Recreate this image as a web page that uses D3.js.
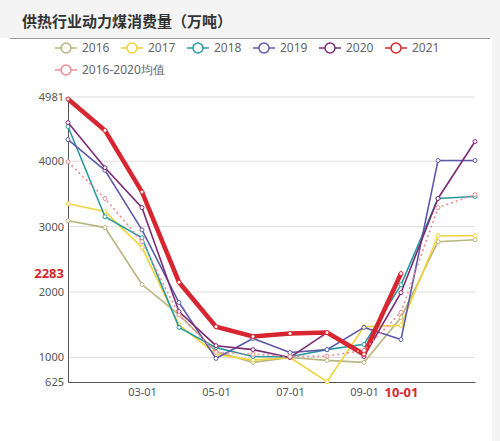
<!DOCTYPE html><html><head><meta charset="utf-8"><script src="https://cdn.jsdelivr.net/npm/d3@7"></script>
<style>body{margin:0;background:#fff;font-family:"Noto Sans CJK SC","Noto Sans",sans-serif}</style></head><body>
<svg id="c" width="500" height="441"></svg>
<script>
const months=["01-01","02-01","03-01","04-01","05-01","06-01","07-01","08-01","09-01","10-01","11-01","12-01"];
const tickLabels=["03-01","05-01","07-01","09-01","10-01"];
const yTicks=[625,1000,2000,3000,4000,4981];
const s2016=[3090,2985,2115,1655,1090,925,1000,955,925,1610,2770,2800];
const s2017=[3350,3230,2680,1500,1050,960,1000,630,1470,1490,2860,2860];
const s2018=[4530,3150,2830,1460,1150,1015,1010,1120,1200,2110,3430,3460];
const s2019=[4330,3860,2950,1840,985,1290,1075,1120,1460,1275,4010,4010];
const s2020=[4590,3900,3290,1700,1180,1120,1000,1380,1015,1990,3430,4300];
const s2021=[4950,4470,3530,2150,1470,1320,1365,1380,1050,2283];
const sAvg=[3990,3430,2770,1650,1080,1050,1015,1020,1110,1690,3290,3490];
const names=["2016","2017","2018","2019","2020","2021","2016-2020均值"];
const colors=["#b8b57e","#f2d33a","#2a9aa3","#5e5aa8","#7d2a74","#d7262f","#f08a90"];
const series=[s2016,s2017,s2018,s2019,s2020,s2021,sAvg];
const svg=d3.select("#c");
svg.append("rect").attr("width",500).attr("height",38).attr("fill","#f4f4f4");
svg.append("rect").attr("x",492).attr("y",38).attr("width",8).attr("height",403).attr("fill","#f4f4f4");
svg.append("text").attr("x",22).attr("y",27).attr("font-size",15).attr("font-weight","bold").attr("fill","#333").text("供热行业动力煤消费量（万吨）");
svg.append("line").attr("x1",10).attr("x2",490).attr("y1",38.5).attr("y2",38.5).attr("stroke","#999");
const x=d3.scalePoint().domain(months).range([68,475]);
const y=d3.scaleLinear().domain([625,4981]).range([382,97]);
const g=svg.append("g");
yTicks.forEach(t=>{if(t>625)g.append("line").attr("x1",68).attr("x2",475).attr("y1",y(t)).attr("y2",y(t)).attr("stroke","#ddd");});
g.append("g").attr("transform","translate(68,0)").call(d3.axisLeft(y).tickValues(yTicks).tickFormat(d3.format("d")).tickSize(0).tickPadding(4))
 .call(a=>{a.select(".domain").attr("stroke","#555");a.selectAll("text").attr("font-size",11).attr("fill","#555").attr("font-family","Noto Sans");});
g.append("text").attr("x",64).attr("y",y(2283)+4).attr("text-anchor","end").attr("font-size",13).attr("font-weight","bold").attr("fill","#d7262f").attr("font-family","Noto Sans").text("2283");
g.append("g").attr("transform","translate(0,382)").call(d3.axisBottom(x).tickValues(tickLabels).tickSize(0).tickPadding(6))
 .call(a=>{a.select(".domain").attr("stroke","#555");a.selectAll("text").attr("font-size",11).attr("fill","#555").attr("font-family","Noto Sans");
 a.selectAll("text").filter(d=>d==="10-01").attr("fill","#d7262f").attr("font-weight","bold").attr("font-size",13);});
const line=d3.line().x((d,i)=>x(months[i])).y(d=>y(d));
series.forEach((s,k)=>{
 g.append("path").attr("d",line(s)).attr("fill","none").attr("stroke",colors[k]).attr("stroke-width",k===5?4.5:1.6).attr("stroke-dasharray",k===6?"2,3":null);
 g.selectAll(null).data(s).enter().append("circle").attr("cx",(d,i)=>x(months[i])).attr("cy",d=>y(d)).attr("r",2).attr("fill","#fff").attr("stroke",colors[k]).attr("stroke-width",1);
});
const lg=svg.append("g").attr("font-family","Noto Sans").attr("font-size",12);
names.forEach((n,k)=>{
 const lx= k<6 ? 55+k*66 : 55, ly= k<6?48:70;
 lg.append("line").attr("x1",lx).attr("x2",lx+22).attr("y1",ly).attr("y2",ly).attr("stroke",colors[k]).attr("stroke-width",1.5);
 lg.append("circle").attr("cx",lx+11).attr("cy",ly).attr("r",5).attr("fill","#fff").attr("stroke",colors[k]).attr("stroke-width",1.5);
 lg.append("text").attr("x",lx+27).attr("y",ly+4).attr("fill","#666").text(n);
});
</script></body></html>
